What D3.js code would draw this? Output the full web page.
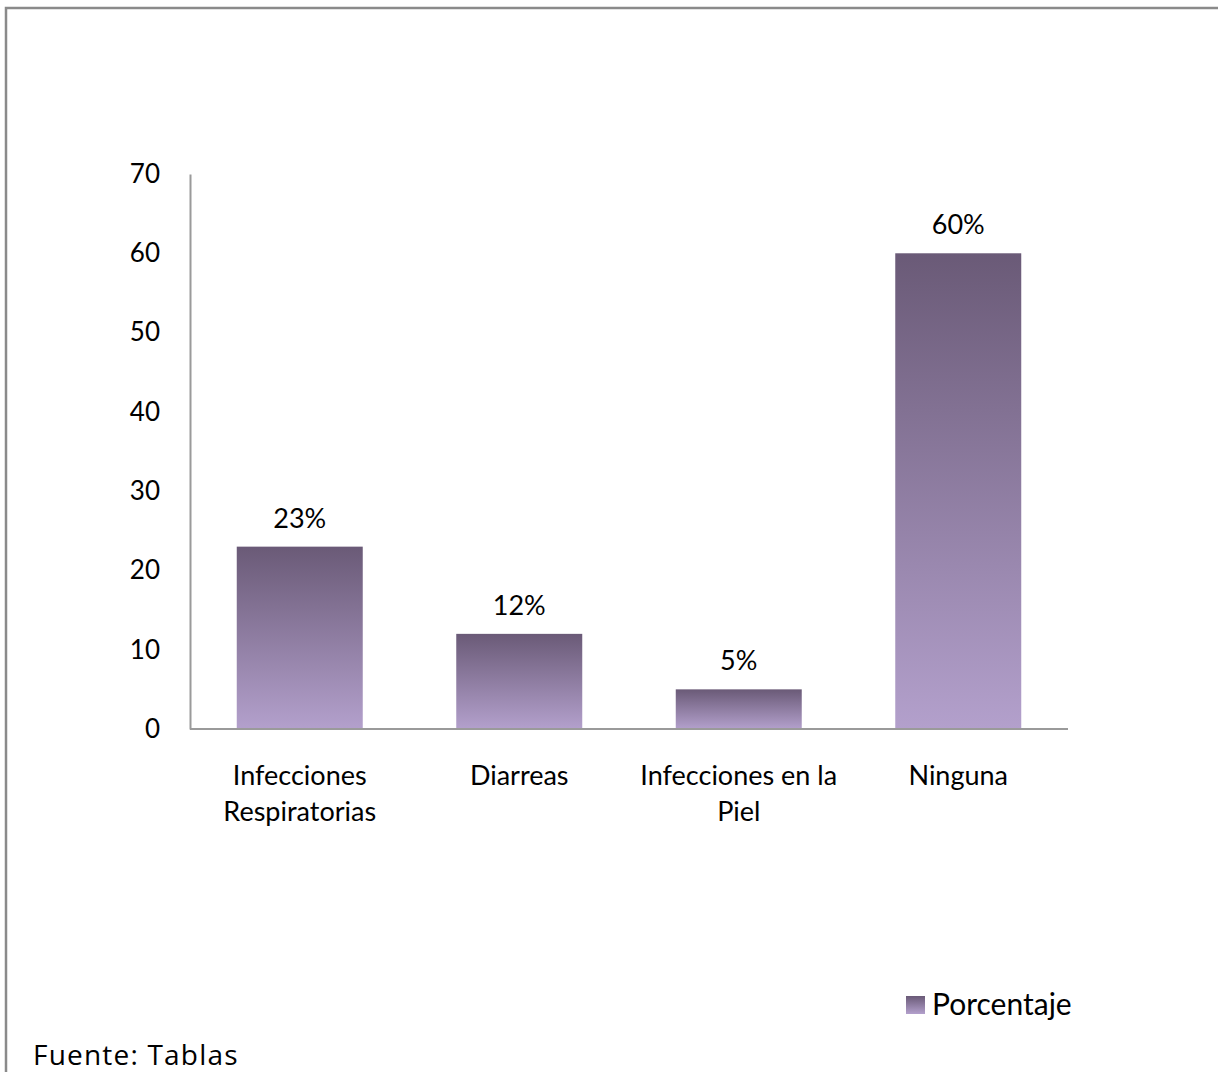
<!DOCTYPE html>
<html>
<head>
<meta charset="utf-8">
<script src="https://cdn.jsdelivr.net/npm/d3@7"></script>
<style>
  html, body { margin: 0; padding: 0; background: #fff; }
  svg { display: block; }
</style>
</head>
<body>
<script>
// Enfermedades frecuentes — porcentaje por tipo
const categories = [["Infecciones", "Respiratorias"], ["Diarreas"], ["Infecciones en la", "Piel"], ["Ninguna"]];
const values = [23, 12, 5, 60];
const yTicks = [0, 10, 20, 30, 40, 50, 60, 70];
const seriesName = "Porcentaje";
const sourceNote = "Fuente: Tablas";

const W = 1218, H = 1072;
const font = "Lato, 'Open Sans', sans-serif";

const svg = d3.select("body").append("svg").attr("width", W).attr("height", H);

// bar gradient: dark at the top, lighter at the base
const defs = svg.append("defs");
const grad = defs.append("linearGradient").attr("id", "barGrad")
  .attr("x1", 0).attr("y1", 0).attr("x2", 0).attr("y2", 1);
grad.append("stop").attr("offset", "0%").attr("stop-color", "#6a5a77");
grad.append("stop").attr("offset", "100%").attr("stop-color", "#b3a0cc");

// outer frame (top and left edges)
svg.append("path")
  .attr("d", `M6,${H} V8 H${W}`)
  .attr("fill", "none").attr("stroke", "#8a8a8a").attr("stroke-width", 2.5);

const plot = { left: 190, right: 1068, top: 174, bottom: 729 };

const x = d3.scaleBand()
  .domain(d3.range(values.length))
  .range([plot.left, plot.right])
  .paddingInner(0.426).paddingOuter(0.213);

const y = d3.scaleLinear().domain([0, 70]).range([plot.bottom, plot.top]);

// bars
svg.append("g").selectAll("rect").data(values).join("rect")
  .attr("x", (d, i) => x(i))
  .attr("y", d => y(d))
  .attr("width", x.bandwidth())
  .attr("height", d => y(0) - y(d))
  .attr("fill", "url(#barGrad)");

// value labels
svg.append("g").selectAll("text").data(values).join("text")
  .attr("x", (d, i) => x(i) + x.bandwidth() / 2)
  .attr("y", d => y(d) - 19)
  .attr("text-anchor", "middle")
  .attr("font-family", font).attr("font-size", 27).attr("fill", "#000")
  .text(d => d + "%");

// y axis
const yAxis = svg.append("g").attr("transform", `translate(${plot.left},0)`)
  .call(d3.axisLeft(y).tickValues(yTicks).tickSize(0).tickPadding(30));
yAxis.select(".domain").attr("stroke", "#9a9a9a").attr("stroke-width", 2);
yAxis.selectAll("text").attr("font-family", font).attr("font-size", 26).attr("fill", "#000");

// x axis line
svg.append("line")
  .attr("x1", plot.left).attr("x2", plot.right)
  .attr("y1", y(0)).attr("y2", y(0))
  .attr("stroke", "#9a9a9a").attr("stroke-width", 2);

// category labels
const catG = svg.append("g");
categories.forEach((lines, i) => {
  const t = catG.append("text")
    .attr("x", x(i) + x.bandwidth() / 2)
    .attr("y", 785)
    .attr("text-anchor", "middle")
    .attr("font-family", font).attr("font-size", 27).attr("fill", "#000");
  lines.forEach((ln, j) => {
    t.append("tspan").attr("x", x(i) + x.bandwidth() / 2).attr("dy", j === 0 ? 0 : 36).text(ln);
  });
});

// legend
const leg = svg.append("g").attr("transform", "translate(906,996)");
leg.append("rect").attr("width", 19).attr("height", 18).attr("fill", "url(#barGrad)");
leg.append("text").attr("x", 26).attr("y", 19)
  .attr("font-family", font).attr("font-size", 30).attr("fill", "#000")
  .text(seriesName);

// source note
svg.append("text").attr("x", 33).attr("y", 1065)
  .attr("font-family", "'Open Sans', sans-serif").attr("font-size", 28)
  .attr("letter-spacing", 1.2).attr("fill", "#000")
  .text(sourceNote);
</script>
</body>
</html>
